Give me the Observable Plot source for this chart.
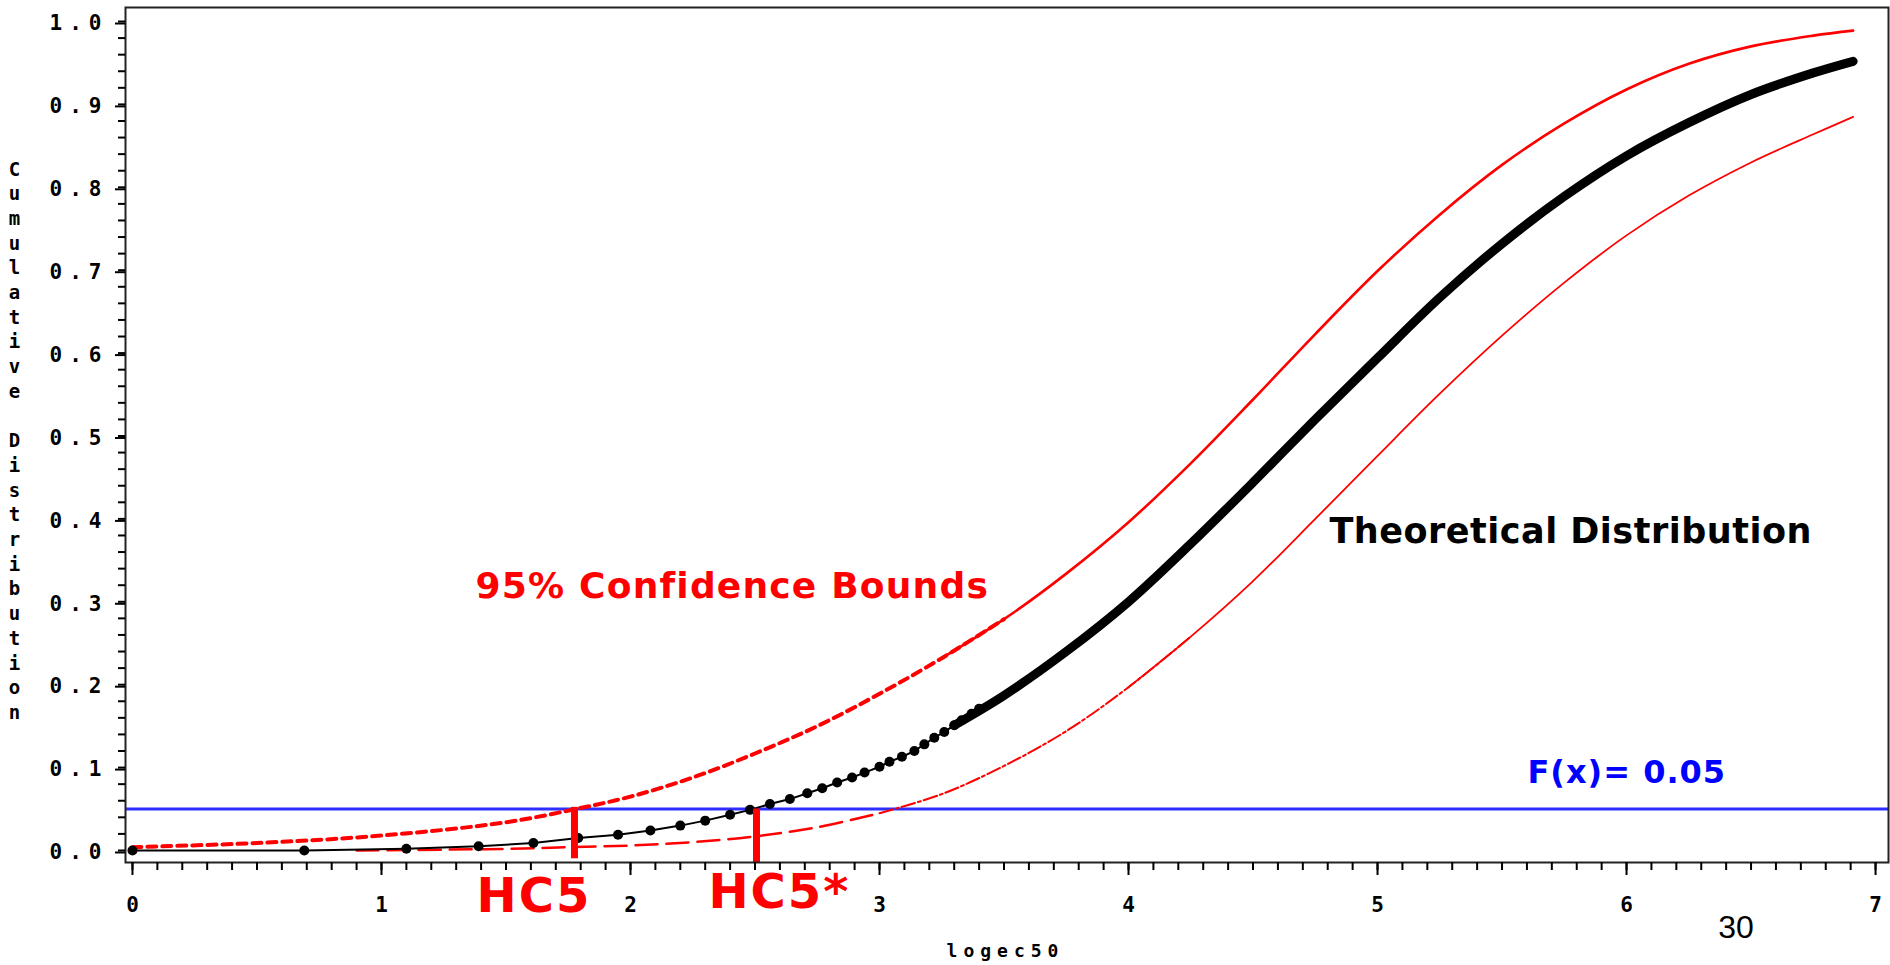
<!DOCTYPE html>
<html><head><meta charset="utf-8">
<script src="https://cdn.jsdelivr.net/npm/d3@7"></script>
<script src="https://cdn.jsdelivr.net/npm/@observablehq/plot@0.6"></script>
<style>
html,body{margin:0;padding:0;background:#fff;overflow:hidden}
#chart svg{display:block}
g[aria-label="y-axis tick label"] text{letter-spacing:7px}
</style></head><body><div id="chart"></div>
<script>
// Theoretical distribution: individually visible markers (lower part)
const blackX = [0, 0.69, 1.10, 1.39, 1.61, 1.79, 1.95, 2.08, 2.20, 2.30, 2.40, 2.48, 2.56, 2.64, 2.71, 2.77, 2.83, 2.89, 2.94, 3.00, 3.04, 3.09, 3.14, 3.18, 3.22, 3.26, 3.30, 3.33, 3.37, 3.40];
const blackY = [0, 0, 0.002, 0.005, 0.009, 0.015, 0.019, 0.024, 0.030, 0.036, 0.043, 0.049, 0.056, 0.062, 0.069, 0.075, 0.082, 0.088, 0.094, 0.101, 0.107, 0.113, 0.120, 0.128, 0.136, 0.143, 0.151, 0.157, 0.165, 0.171];
// Theoretical distribution: dense part (markers merge into a thick curve)
const curveX = [3.30, 3.50, 3.75, 4.00, 4.25, 4.50, 4.75, 5.00, 5.25, 5.50, 5.75, 6.00, 6.25, 6.50, 6.75, 6.91];
const curveY = [0.151, 0.187, 0.240, 0.300, 0.370, 0.444, 0.520, 0.594, 0.667, 0.732, 0.789, 0.838, 0.878, 0.912, 0.938, 0.952];
// Upper 95% confidence bound
const upperX = [0, 0.5, 1.0, 1.5, 1.78, 2.0, 2.25, 2.5, 2.75, 3.0, 3.25, 3.5, 3.75, 4.0, 4.25, 4.5, 4.75, 5.0, 5.25, 5.5, 5.75, 6.0, 6.25, 6.5, 6.75, 6.91];
const upperY = [0.004, 0.009, 0.018, 0.034, 0.050, 0.065, 0.088, 0.117, 0.150, 0.189, 0.232, 0.279, 0.334, 0.396, 0.467, 0.544, 0.623, 0.699, 0.767, 0.827, 0.877, 0.918, 0.949, 0.970, 0.983, 0.989];
// Lower 95% confidence bound
const lowerX = [0.90, 1.25, 1.5, 1.75, 2.0, 2.25, 2.5, 2.75, 3.0, 3.25, 3.5, 3.75, 4.0, 4.25, 4.5, 4.75, 5.0, 5.25, 5.5, 5.75, 6.0, 6.25, 6.5, 6.75, 6.91];
const lowerY = [0.000, 0.001, 0.002, 0.004, 0.006, 0.010, 0.017, 0.028, 0.045, 0.068, 0.102, 0.144, 0.197, 0.258, 0.325, 0.400, 0.476, 0.551, 0.621, 0.685, 0.742, 0.790, 0.830, 0.864, 0.885];
// Reference values
const fLevel = 0.05;
const hc5 = 1.775;
const hc5Star = 2.506;
const yTicks = [0, 0.1, 0.2, 0.3, 0.4, 0.5, 0.6, 0.7, 0.8, 0.9, 1.0];
const xTicks = [0, 1, 2, 3, 4, 5, 6, 7];

const pts = (xs, ys) => xs.map((x, i) => ({x, y: ys[i]}));
const black = pts(blackX, blackY);
const curve = pts(curveX, curveY);
const upper = pts(upperX, upperY);
const lower = pts(lowerX, lowerY);

const mono = "DejaVu Sans Mono";
const sans = "DejaVu Sans";
const yTitle = "Cumulative Distribution".split("").map(c => c === " " ? "\u00a0" : c).join("\n");

const chart = Plot.plot({
  width: 1890, height: 965,
  marginLeft: 125, marginRight: 2, marginTop: 7, marginBottom: 103,
  x: {domain: [-0.028, 7.052]},
  y: {domain: [-0.0145, 1.0169]},
  style: {background: "white", color: "black"},
  marks: [
    Plot.ruleY([fLevel], {stroke: "#2e2eff", strokeWidth: 3}),
    // upper bound
    Plot.line(upper.filter(d => d.x <= 3.5), {x: "x", y: "y", stroke: "#ff0000", strokeWidth: 4, strokeDasharray: "9,6", curve: "catmull-rom"}),
    Plot.line(upper.filter(d => d.x >= 3.25), {x: "x", y: "y", stroke: "#ff0000", strokeWidth: 2.6, curve: "catmull-rom"}),
    // lower bound
    Plot.line(lower.filter(d => d.x <= 3.0), {x: "x", y: "y", stroke: "#ff0000", strokeWidth: 2.5, strokeDasharray: "22,9", curve: "catmull-rom"}),
    Plot.line(lower.filter(d => d.x >= 3.0 && d.x <= 4.25), {x: "x", y: "y", stroke: "#ff0000", strokeWidth: 2, strokeDasharray: "14,3,3,3", curve: "catmull-rom"}),
    Plot.line(lower.filter(d => d.x >= 4.0), {x: "x", y: "y", stroke: "#ff0000", strokeWidth: 1.8, curve: "catmull-rom"}),
    // theoretical distribution
    Plot.line(black, {x: "x", y: "y", stroke: "black", strokeWidth: 2}),
    Plot.dot(black, {x: "x", y: "y", r: 5, fill: "black"}),
    Plot.line(curve, {x: "x", y: "y", stroke: "black", strokeWidth: 9, strokeLinecap: "round", curve: "catmull-rom"}),
    // HC5 markers
    Plot.ruleX([hc5], {y1: 0.052, y2: -0.010, stroke: "#ff0000", strokeWidth: 7}),
    Plot.ruleX([hc5Star], {y1: fLevel, y2: -0.0145, stroke: "#ff0000", strokeWidth: 7}),
    // frame & axes
    Plot.frame({stroke: "#222", strokeWidth: 2}),
    Plot.axisY({interval: 0.02, tickSize: 7, strokeWidth: 2, tickFormat: () => "", label: null}),
    Plot.axisY(yTicks, {tickSize: 10, tickPadding: 7, strokeWidth: 2, tickFormat: d3.format(".1f"), label: null,
      fontFamily: mono, fontWeight: "bold", fontSize: 21, dy: 2}),
    Plot.axisX({interval: 0.1, tickSize: 8, strokeWidth: 2, tickFormat: () => "", label: null}),
    Plot.axisX(xTicks, {tickSize: 13, tickPadding: 22, strokeWidth: 2, tickFormat: d3.format("d"), label: null,
      fontFamily: mono, fontWeight: "bold", fontSize: 21}),
    // annotations
    Plot.text([{x: 1.378, y: 0.304, t: "95% Confidence Bounds"}], {x: "x", y: "y", text: "t", textAnchor: "start", lineAnchor: "bottom",
      fill: "#ff0000", fontFamily: sans, fontWeight: "bold", fontSize: 36}),
    Plot.text([{x: 4.807, y: 0.3715, t: "Theoretical Distribution"}], {x: "x", y: "y", text: "t", textAnchor: "start", lineAnchor: "bottom",
      fill: "black", fontFamily: sans, fontWeight: "bold", fontSize: 35}),
    Plot.text([{x: 5.602, y: 0.082, t: "F(x)= 0.05"}], {x: "x", y: "y", text: "t", textAnchor: "start", lineAnchor: "bottom",
      fill: "#0000ff", fontFamily: sans, fontWeight: "bold", fontSize: 32}),
    Plot.text([{x: 1.382, y: -0.0748, t: "HC5"}, {x: 2.313, y: -0.0688, t: "HC5*"}], {x: "x", y: "y", text: "t", textAnchor: "start", lineAnchor: "bottom",
      fill: "#ff0000", fontFamily: sans, fontWeight: "bold", fontSize: 48}),
    Plot.text([{x: 3.506, y: -0.129, t: "logec50"}], {x: "x", y: "y", text: "t", textAnchor: "middle", lineAnchor: "bottom",
      fill: "black", fontFamily: mono, fontWeight: "bold", fontSize: 18}),
    Plot.text([{x: 6.44, y: -0.106, t: "30"}], {x: "x", y: "y", text: "t", textAnchor: "middle", lineAnchor: "bottom",
      fill: "black", fontFamily: "Liberation Sans", fontWeight: "normal", fontSize: 32}),
    Plot.text([{x: -0.474, y: 0.496, t: yTitle}], {x: "x", y: "y", text: "t", textAnchor: "middle", lineAnchor: "middle",
      lineHeight: 1.30, fill: "black", fontFamily: mono, fontWeight: "bold", fontSize: 19})
  ]
});

const spacing = {"HC5": 2, "HC5*": 2, "logec50": 6, "F(x)= 0.05": 1, "95% Confidence Bounds": 1.2, "Theoretical Distribution": 0.5};
chart.querySelectorAll("text").forEach(t => {
  const s = spacing[t.textContent];
  if (s != null) t.style.letterSpacing = s + "px";
});
document.getElementById("chart").appendChild(chart);
</script></body></html>
